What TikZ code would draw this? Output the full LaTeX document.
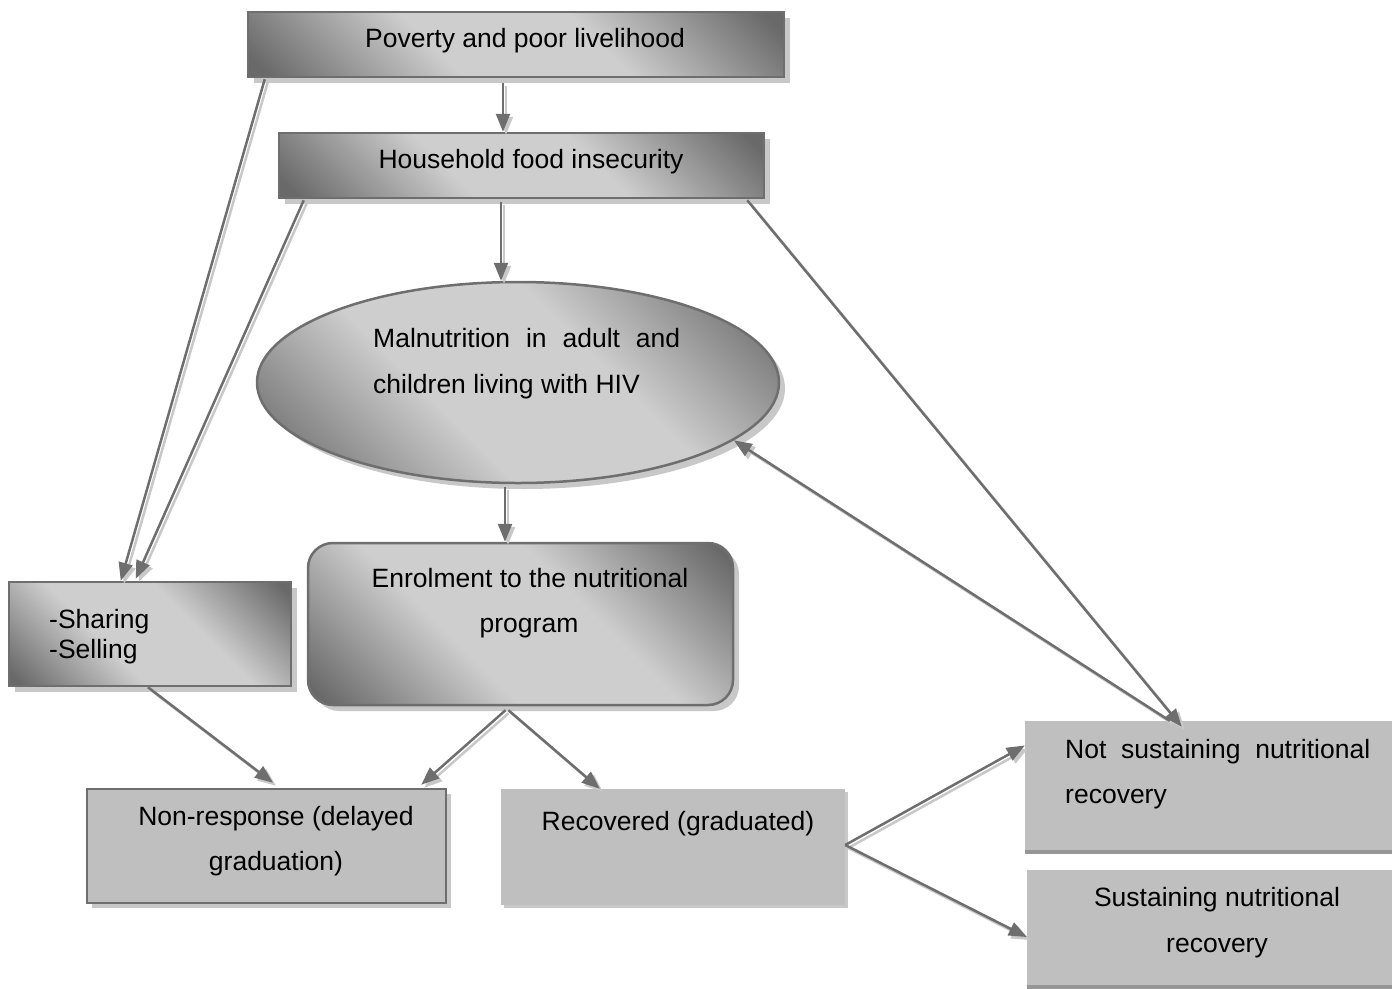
\documentclass[tikz,border=0pt]{standalone}
\usepackage{fontspec}
\setmainfont{Liberation Sans}
\usetikzlibrary{shapes.geometric,shadows,arrows.meta,calc}
\definecolor{dk}{RGB}{105,105,105}
\definecolor{lt}{RGB}{206,206,206}
\definecolor{edgec}{RGB}{110,110,110}
\definecolor{flat}{RGB}{191,191,191}
\definecolor{shd}{RGB}{200,200,200}
\definecolor{shdk}{RGB}{150,150,150}
\pgfdeclareverticalshading{gshade}{100bp}{color(0bp)=(dk); color(17bp)=(dk); color(40bp)=(lt); color(60bp)=(lt); color(83bp)=(dk); color(100bp)=(dk)}
\tikzset{
  grad/.style={shading=gshade, shading angle=-45},
  gbox/.style={rectangle, grad, draw=edgec, line width=2.5pt, inner sep=0pt,
    drop shadow={shadow xshift=6pt, shadow yshift=-6pt, fill=shd, opacity=1}},
  fbox/.style={rectangle, fill=flat, inner sep=0pt},
  txt/.style={inner sep=0pt, font=\fontsize{26.5pt}{30pt}\selectfont},
  arr/.style={draw=edgec, line width=2.5pt, -{Triangle[length=18pt,width=14pt]},
    preaction={draw=shd, line width=2.5pt, -{Triangle[length=18pt,width=14pt]},
      transform canvas={xshift=3pt,yshift=-3pt}}}
}
\begin{document}
\begin{tikzpicture}[x=1pt,y=-1pt]
\useasboundingbox (0,0) rectangle (1392,988);
% boxes
\node[gbox, minimum width=536pt, minimum height=65pt] (pov) at (516,44.5) {};
\node[gbox, minimum width=485pt, minimum height=65pt] (hh) at (521.5,165.5) {};
\node[ellipse, grad, draw=edgec, line width=2.5pt, inner sep=0pt,
  drop shadow={shadow xshift=6pt, shadow yshift=-6pt, fill=shd, opacity=1},
  minimum width=522pt, minimum height=201pt] (mal) at (518,382.5) {};
\node[gbox, rounded corners=25pt, minimum width=425pt, minimum height=162pt] (enr) at (520.5,624) {};
\node[gbox, minimum width=282pt, minimum height=104pt] (shr) at (150,634) {};
\node[fbox, draw=edgec, line width=2.5pt,
  drop shadow={shadow xshift=5pt, shadow yshift=-5pt, fill=shd, opacity=1},
  minimum width=359pt, minimum height=114pt] (non) at (266.5,846) {};
\node[fbox, drop shadow={shadow xshift=3pt, shadow yshift=-3pt, fill=shd, opacity=1},
  minimum width=344pt, minimum height=116pt] (rec) at (673,847) {};
\node[fbox, drop shadow={shadow xshift=0pt, shadow yshift=-4pt, fill=shdk, opacity=1},
  minimum width=367pt, minimum height=129pt] (nsus) at (1208.5,785.5) {};
\node[fbox, drop shadow={shadow xshift=0pt, shadow yshift=-4pt, fill=shdk, opacity=1},
  minimum width=365pt, minimum height=115pt] (sus) at (1209.5,927.5) {};
% texts
\node[txt, anchor=base] (povT) at (525,47) {Poverty and poor livelihood};
\node[txt, anchor=base] (hhT) at (531,168) {Household food insecurity};
\node[txt, anchor=base west] (malT1) at (373,347) {\makebox[307pt][s]{Malnutrition in adult and}};
\node[txt, anchor=base west] (malT2) at (373,393) {children living with HIV};
\node[txt, anchor=base] (enrT1) at (530,587) {Enrolment to the nutritional};
\node[txt, anchor=base] (enrT2) at (529,632) {program};
\node[txt, anchor=base west] (shrT1) at (49,628) {-Sharing};
\node[txt, anchor=base west] (shrT2) at (49,658) {-Selling};
\node[txt, anchor=base] (nonT1) at (276,825) {Non-response (delayed};
\node[txt, anchor=base] (nonT2) at (276,870) {graduation)};
\node[txt, anchor=base] (recT) at (678,830) {Recovered (graduated)};
\node[txt, anchor=base west] (nsusT1) at (1065,758) {\makebox[305pt][s]{Not sustaining nutritional}};
\node[txt, anchor=base west] (nsusT2) at (1065,803) {recovery};
\node[txt, anchor=base] (susT1) at (1217,906) {Sustaining nutritional};
\node[txt, anchor=base] (susT2) at (1217,952) {recovery};
% connectors
\draw[arr] ([xshift=-13pt,yshift=-5pt]pov.south) -- ([xshift=-18.5pt]hh.north);
\draw[arr] ([xshift=-20.5pt,yshift=-3pt]hh.south) -- ([xshift=-17pt]mal.north);
\draw[arr] ([xshift=-13pt,yshift=-3pt]mal.south) -- ([xshift=-15.5pt]enr.north);
\draw[arr] ([xshift=18pt,yshift=-1pt]pov.south west) -- ([xshift=113pt]shr.north west);
\draw[arr] ([xshift=26pt,yshift=-1pt]hh.south west) -- ([xshift=128pt,yshift=2pt]shr.north west);
\draw[arr] ([xshift=-18pt,yshift=-1pt]hh.south east) -- ([xshift=157pt,yshift=-6pt]nsus.north west);
\draw[arr] ([xshift=145pt]nsus.north west) -- (mal.-15);
\draw[arr] ([xshift=-2pt]shr.south) -- ([xshift=6.5pt,yshift=5pt]non.north);
\draw[arr] ([xshift=-15pt,yshift=-4pt]enr.south) -- ([xshift=-26pt,yshift=3pt]non.north east);
\draw[arr] ([xshift=-12pt,yshift=-4pt]enr.south) -- ([xshift=99pt]rec.north west);
\draw[arr] ([yshift=2pt]rec.east) -- ([yshift=40pt]nsus.west);
\draw[arr] ([yshift=2pt]rec.east) -- ([yshift=-9.5pt]sus.west);
\end{tikzpicture}
\end{document}
